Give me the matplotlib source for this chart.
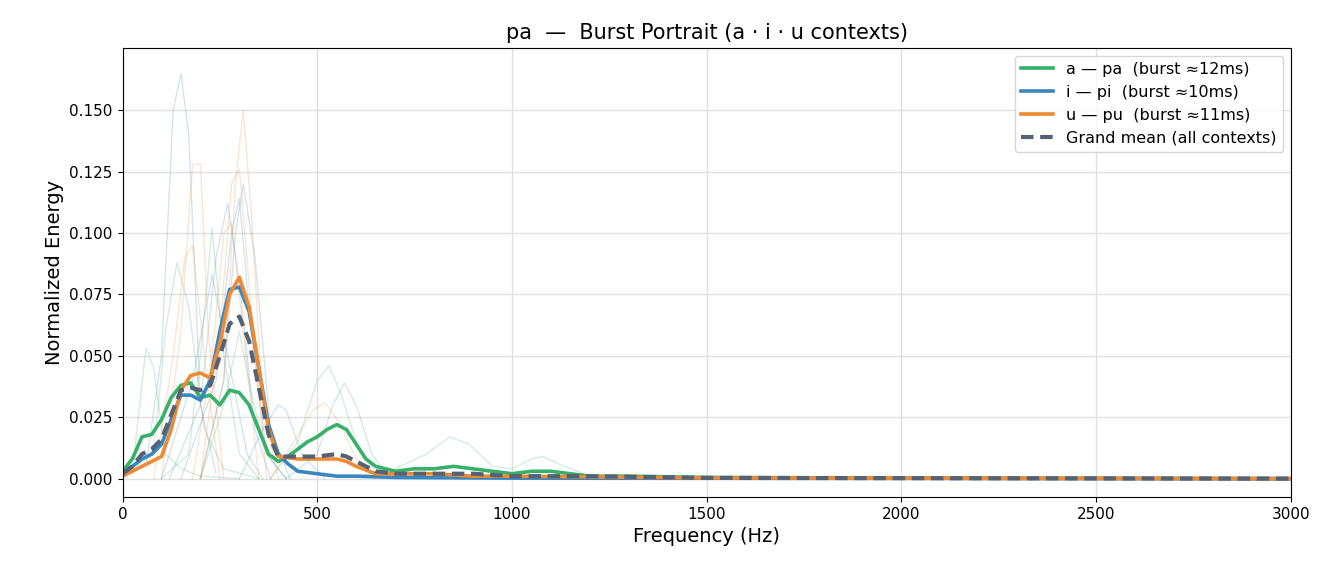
import matplotlib
matplotlib.use("Agg")
import matplotlib.pyplot as plt

# main context curves (Hz, normalized energy)
a_freq = [0, 25, 50, 75, 100, 125, 150, 175, 200, 225, 250, 275, 300, 325, 350, 375, 400, 425, 450,
          475, 500, 525, 550, 575, 600, 625, 650, 700, 750, 800, 850, 900, 950, 1000, 1050, 1100,
          1150, 1200, 1300, 1500, 2000, 3000]
a_vals = [0.003, 0.008, 0.017, 0.018, 0.024, 0.033, 0.038, 0.039, 0.033, 0.034, 0.030, 0.036, 0.035,
          0.030, 0.020, 0.010, 0.007, 0.009, 0.012, 0.015, 0.017, 0.020, 0.022, 0.020, 0.014, 0.008,
          0.005, 0.003, 0.004, 0.004, 0.005, 0.004, 0.003, 0.002, 0.003, 0.003, 0.002, 0.001, 0.001,
          0.0005, 0.0002, 0.0]
i_freq = [0, 25, 50, 75, 100, 125, 150, 175, 200, 225, 250, 275, 300, 325, 350, 375, 400, 425, 450,
          500, 550, 600, 700, 1000, 3000]
i_vals = [0.002, 0.005, 0.008, 0.010, 0.014, 0.024, 0.034, 0.034, 0.032, 0.040, 0.060, 0.077, 0.078,
          0.068, 0.045, 0.022, 0.010, 0.006, 0.003, 0.002, 0.001, 0.001, 0.0005, 0.0002, 0.0]
u_freq = [0, 25, 50, 75, 100, 125, 150, 175, 200, 225, 250, 275, 300, 325, 350, 375, 400, 450, 500,
          550, 575, 600, 650, 700, 800, 900, 1000, 1500, 3000]
u_vals = [0.001, 0.003, 0.005, 0.007, 0.009, 0.020, 0.036, 0.042, 0.043, 0.041, 0.055, 0.075, 0.082,
          0.070, 0.045, 0.020, 0.009, 0.008, 0.008, 0.008, 0.007, 0.005, 0.002, 0.002, 0.002, 0.001,
          0.001, 0.0003, 0.0]
m_freq = [0, 25, 50, 75, 100, 125, 150, 175, 200, 225, 250, 275, 300, 325, 350, 375, 400, 450, 500,
          550, 575, 600, 650, 700, 800, 900, 1000, 1200, 1500, 3000]
m_vals = [0.002, 0.005, 0.010, 0.012, 0.016, 0.026, 0.036, 0.037, 0.036, 0.038, 0.050, 0.063, 0.066,
          0.056, 0.037, 0.018, 0.009, 0.009, 0.009, 0.010, 0.009, 0.007, 0.003, 0.002, 0.002, 0.002,
          0.001, 0.001, 0.0003, 0.0]

# individual token curves (faint)
a_tokens = [
    ([0, 30, 60, 80, 110, 150, 200, 300], [0.002, 0.01, 0.053, 0.045, 0.01, 0.004, 0.001, 0.0]),
    ([0, 80, 110, 140, 170, 210, 260, 350], [0.001, 0.01, 0.06, 0.088, 0.07, 0.02, 0.004, 0.0]),
    ([100, 170, 200, 230, 260, 300, 350], [0.0, 0.01, 0.05, 0.102, 0.05, 0.01, 0.0]),
    ([200, 260, 300, 330, 370, 420], [0.0, 0.03, 0.06, 0.035, 0.01, 0.0]),
    ([380, 450, 500, 530, 560, 600, 650], [0.0, 0.015, 0.04, 0.046, 0.035, 0.015, 0.002]),
    ([420, 500, 540, 570, 600, 640, 680], [0.0, 0.01, 0.03, 0.039, 0.03, 0.01, 0.002]),
    ([600, 700, 780, 840, 890, 950, 1000, 1050, 1080, 1120, 1200], [0.001, 0.004, 0.01, 0.017, 0.014, 0.005, 0.004, 0.008, 0.009, 0.006, 0.001]),
]
i_tokens = [
    ([0, 60, 100, 130, 150, 170, 200, 240], [0.003, 0.005, 0.05, 0.15, 0.165, 0.14, 0.03, 0.002]),
    ([120, 200, 240, 270, 300, 340, 380], [0.0, 0.03, 0.09, 0.112, 0.08, 0.02, 0.0]),
    ([150, 240, 280, 300, 330, 370, 420], [0.0, 0.04, 0.1, 0.114, 0.06, 0.01, 0.0]),
    ([200, 260, 290, 310, 340, 380, 430], [0.0, 0.04, 0.1, 0.12, 0.09, 0.02, 0.0]),
    ([100, 180, 230, 270, 320, 360], [0.0, 0.04, 0.083, 0.05, 0.01, 0.0]),
    ([300, 360, 400, 420, 460, 520], [0.0, 0.02, 0.03, 0.028, 0.01, 0.0]),
]
u_tokens = [
    ([100, 150, 180, 200, 220, 260], [0.0, 0.06, 0.128, 0.128, 0.06, 0.0]),
    ([200, 260, 290, 310, 330, 360, 400], [0.0, 0.04, 0.12, 0.15, 0.11, 0.03, 0.0]),
    ([200, 250, 280, 300, 330, 370], [0.0, 0.06, 0.12, 0.126, 0.07, 0.0]),
    ([180, 230, 260, 280, 310, 350], [0.0, 0.05, 0.1, 0.104, 0.06, 0.0]),
    ([80, 130, 160, 180, 210, 250], [0.0, 0.05, 0.09, 0.095, 0.05, 0.0]),
    ([380, 440, 490, 520, 560, 600, 650], [0.0, 0.015, 0.028, 0.031, 0.022, 0.008, 0.0]),
]

c_a, c_i, c_u, c_m = "#37b06a", "#3a86bf", "#ec8a35", "#566272"

fig, ax = plt.subplots(figsize=(13.32, 5.8), dpi=100)
for xs, ys in a_tokens:
    ax.plot(xs, ys, color=c_a, alpha=0.22, lw=1)
for xs, ys in i_tokens:
    ax.plot(xs, ys, color=c_i, alpha=0.22, lw=1)
for xs, ys in u_tokens:
    ax.plot(xs, ys, color=c_u, alpha=0.22, lw=1)

ax.plot(a_freq, a_vals, color=c_a, lw=2.6, label="a — pa  (burst ≈12ms)")
ax.plot(i_freq, i_vals, color=c_i, lw=2.6, label="i — pi  (burst ≈10ms)")
ax.plot(u_freq, u_vals, color=c_u, lw=2.6, label="u — pu  (burst ≈11ms)")
ax.plot(m_freq, m_vals, color=c_m, lw=3, ls=(0, (3, 1.6)), label="Grand mean (all contexts)")

ax.set_xlim(0, 3000)
ax.set_ylim(-0.0075, 0.1755)
ax.set_yticks([0, 0.025, 0.05, 0.075, 0.1, 0.125, 0.15])
ax.grid(True, color="#e0e0e0", lw=1)
ax.set_axisbelow(True)
ax.tick_params(labelsize=11)
ax.set_xlabel("Frequency (Hz)", fontsize=14)
ax.set_ylabel("Normalized Energy", fontsize=14)
ax.set_title("pa  —  Burst Portrait (a · i · u contexts)", fontsize=15)
ax.legend(loc="upper right", fontsize=11.5)
fig.subplots_adjust(left=0.092, right=0.969, top=0.918, bottom=0.143)
fig.savefig("out.png")
